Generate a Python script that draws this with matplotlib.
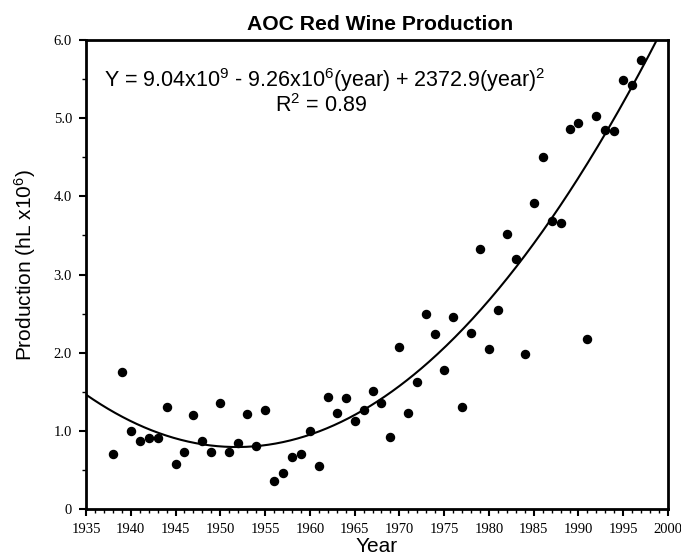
import numpy as np
import matplotlib
matplotlib.use("Agg")
import matplotlib.pyplot as plt
from matplotlib.ticker import MultipleLocator, FixedLocator

years = list(range(1938, 1998))
production = [0.70, 1.75, 1.00, 0.87, 0.91, 0.91, 1.31, 0.58, 0.73, 1.20,
              0.87, 0.73, 1.35, 0.73, 0.85, 1.22, 0.81, 1.27, 0.36, 0.46,
              0.66, 0.71, 1.00, 0.55, 1.43, 1.23, 1.42, 1.13, 1.27, 1.51,
              1.36, 0.92, 2.07, 1.23, 1.63, 2.49, 2.24, 1.78, 2.45, 1.30,
              2.25, 3.32, 2.05, 2.54, 3.52, 3.20, 1.98, 3.92, 4.50, 3.68,
              3.66, 4.86, 4.94, 2.17, 5.03, 4.85, 4.84, 5.49, 5.43, 5.75]

x_ticks = list(range(1935, 2001, 5))
y_ticks = [0, 1, 2, 3, 4, 5, 6]
y_tick_labels = ["0", "1.0", "2.0", "3.0", "4.0", "5.0", "6.0"]

title = "AOC Red Wine Production"
equation = r"Y = 9.04x10$^{9}$ - 9.26x10$^{6}$(year) + 2372.9(year)$^{2}$"
r2_text = r"R$^{2}$ = 0.89"

plt.rcParams['mathtext.default'] = 'regular'
sans = ['Liberation Sans', 'DejaVu Sans']
serif = ['Liberation Serif', 'DejaVu Serif']

fig = plt.figure(figsize=(6.81, 5.60), dpi=100)
ax = fig.add_axes([86/681, 1 - 509/560, (668-86)/681, (509-40)/560])

x = np.array(years, dtype=float)
y = np.array(production)
coef = np.polyfit(x - 1965, y, 2)
xx = np.linspace(1935, 2000, 400)
ax.plot(xx, np.polyval(coef, xx - 1965), color='black', lw=1.5, zorder=2)
ax.plot(x, y, 'o', color='black', ms=5.8, zorder=3)

ax.set_xlim(1935, 2000)
ax.set_ylim(0, 6)
ax.xaxis.set_major_locator(FixedLocator(x_ticks))
ax.xaxis.set_minor_locator(MultipleLocator(1))
ax.yaxis.set_major_locator(FixedLocator(y_ticks))
ax.yaxis.set_minor_locator(MultipleLocator(0.5))
ax.set_yticklabels(y_tick_labels)
ax.tick_params(which='major', direction='out', length=5, width=1.5, labelsize=10.5, pad=5)
ax.tick_params(which='minor', direction='out', length=3, width=1.0)
for lab in ax.get_xticklabels() + ax.get_yticklabels():
    lab.set_family(serif)
for s in ax.spines.values():
    s.set_linewidth(2.0)

ax.set_xlabel("Year", family=sans, fontsize=15, labelpad=1)
ax.set_ylabel(r"Production (hL x10$^{6}$)", family=sans, fontsize=15)
ax.yaxis.set_label_coords(-0.082, 0.52)
fig.text(380/681, 1 - 24/560, title, family=sans, fontsize=15.2, fontweight='bold',
         ha='center', va='center')

fig.text(325/681, 1 - 80/560, equation, ha='center', va='center',
         family=sans, fontsize=15.5)
fig.text(321/681, 1 - 106/560, r2_text, ha='center', va='center',
         family=sans, fontsize=15.5)

fig.savefig("out.png", dpi=100)
